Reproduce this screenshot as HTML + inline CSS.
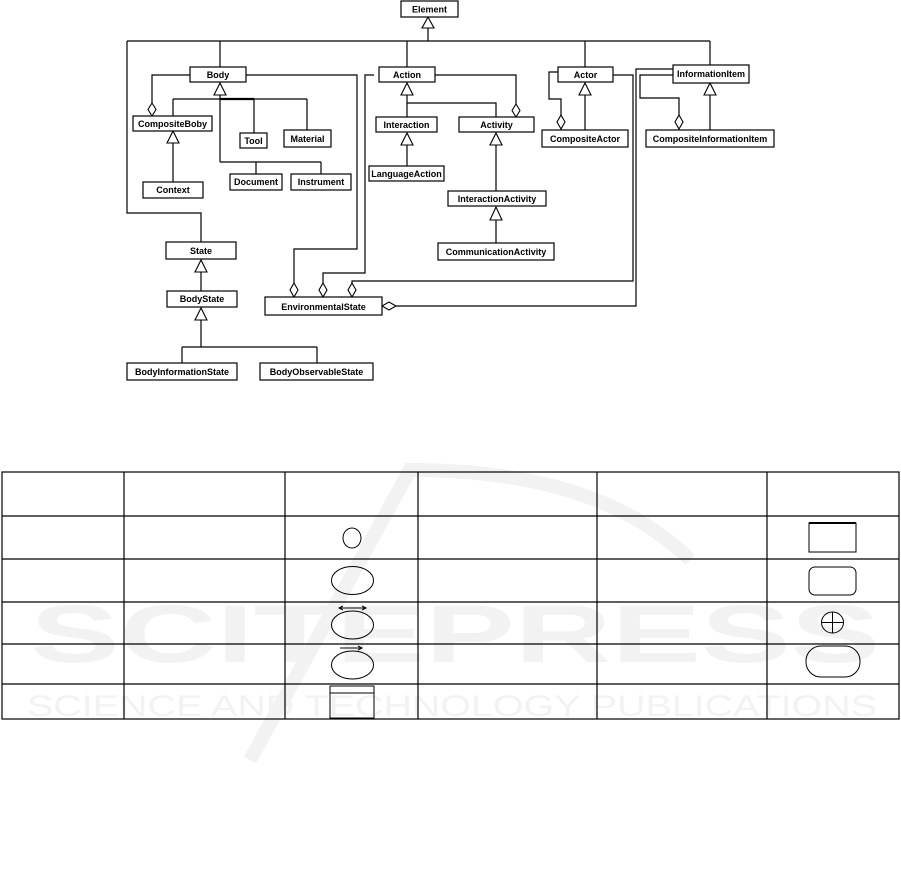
<!DOCTYPE html>
<html><head><meta charset="utf-8"><style>
html,body{margin:0;padding:0;background:#fff;}
svg{display:block;}
text{font-family:"Liberation Sans",sans-serif;font-weight:bold;font-size:9px;text-anchor:middle;}
</style></head><body>
<svg width="901" height="885" viewBox="0 0 901 885" xmlns="http://www.w3.org/2000/svg">
<!-- watermark -->
<g>
<text x="455" y="662" style="font-size:82px;font-weight:bold;text-anchor:middle;fill:#f2f2f2" textLength="850" lengthAdjust="spacingAndGlyphs">SCITEPRESS</text>
<text x="452" y="716" style="font-size:30px;font-weight:normal;text-anchor:middle;fill:#f2f2f2" textLength="850" lengthAdjust="spacingAndGlyphs">SCIENCE AND TECHNOLOGY PUBLICATIONS</text>
<path d="M250,760 L410,470 Q600,470 690,560" fill="none" stroke="#f2f2f2" stroke-width="14"/>
</g>
<g fill="none" stroke="#000" stroke-width="1.2">
<polyline points="428,28 428,41"/>
<polyline points="127,41 710,41"/>
<polyline points="127,41 127,213 201,213 201,242"/>
<polyline points="220,41 220,67"/>
<polyline points="407,41 407,67"/>
<polyline points="585,41 585,67"/>
<polyline points="710,41 710,66"/>
<polyline points="246,75 357,75 357,249 294,249 294,283"/>
<polyline points="190,75 152,75 152,103"/>
<polyline points="220,95 220,162"/>
<polyline points="173,99 307,99"/>
<polyline points="220,99 254,99" stroke-width="2.2"/>
<polyline points="173,99 173,116"/>
<polyline points="254,99 254,133"/>
<polyline points="307,99 307,130"/>
<polyline points="220,162 321,162"/>
<polyline points="256,162 256,174"/>
<polyline points="321,162 321,174"/>
<polyline points="173,143 173,182"/>
<polyline points="374,75 365,75 365,273 323,273 323,283"/>
<polyline points="435,75 516,75 516,104"/>
<polyline points="407,95 407,117"/>
<polyline points="407,103 496,103 496,117"/>
<polyline points="407,145 407,166"/>
<polyline points="496,145 496,191"/>
<polyline points="496,220 496,243"/>
<polyline points="558,72 549,72 549,99 561,99 561,115"/>
<polyline points="585,95 585,130"/>
<polyline points="613,75 633,75 633,281 352,281 352,283"/>
<polyline points="673,69 636,69 636,306 396,306"/>
<polyline points="673,75 640,75 640,98 679,98 679,115"/>
<polyline points="710,95 710,130"/>
<polyline points="201,272 201,291"/>
<polyline points="201,320 201,347"/>
<polyline points="182,347 317,347"/>
<polyline points="182,347 182,363"/>
<polyline points="317,347 317,363"/>
</g>
<g fill="#fff" stroke="#000" stroke-width="1.1">
<polygon points="428,17 422,28 434,28"/>
<polygon points="220,83 214,95 226,95"/>
<polygon points="173,131 167,143 179,143"/>
<polygon points="407,83 401,95 413,95"/>
<polygon points="407,133 401,145 413,145"/>
<polygon points="496,133 490,145 502,145"/>
<polygon points="496,207 490,220 502,220"/>
<polygon points="585,83 579,95 591,95"/>
<polygon points="710,83 704,95 716,95"/>
<polygon points="201,260 195,272 207,272"/>
<polygon points="201,308 195,320 207,320"/>
<polygon points="152,103 156,109.5 152,116 148,109.5"/>
<polygon points="516,104 520,110.5 516,117 512,110.5"/>
<polygon points="561,115 565,122 561,129 557,122"/>
<polygon points="679,115 683,122 679,129 675,122"/>
<polygon points="294,283 298,290 294,297 290,290"/>
<polygon points="323,283 327,290 323,297 319,290"/>
<polygon points="352,283 356,290 352,297 348,290"/>
<polygon points="382,306 389,302 396,306 389,310"/>
</g>
<g fill="#fff" stroke="#000" stroke-width="1.2">
<rect x="401" y="1" width="57" height="16"/>
<rect x="190" y="67" width="56" height="15"/>
<rect x="133" y="116" width="79" height="15"/>
<rect x="240" y="133" width="27" height="15"/>
<rect x="284" y="130" width="47" height="17"/>
<rect x="230" y="174" width="52" height="16"/>
<rect x="291" y="174" width="60" height="16"/>
<rect x="143" y="182" width="60" height="16"/>
<rect x="379" y="67" width="56" height="15"/>
<rect x="376" y="117" width="61" height="15"/>
<rect x="459" y="117" width="75" height="15"/>
<rect x="369" y="166" width="75" height="15"/>
<rect x="448" y="191" width="98" height="15"/>
<rect x="438" y="243" width="116" height="17"/>
<rect x="558" y="67" width="55" height="15"/>
<rect x="542" y="130" width="86" height="17"/>
<rect x="673" y="65" width="76" height="18"/>
<rect x="646" y="130" width="128" height="17"/>
<rect x="166" y="242" width="70" height="17"/>
<rect x="167" y="291" width="70" height="16"/>
<rect x="265" y="297" width="117" height="18"/>
<rect x="127" y="363" width="110" height="17"/>
<rect x="260" y="363" width="113" height="17"/>
</g>
<g fill="#000">
<text x="429.5" y="12.5">Element</text>
<text x="218" y="78">Body</text>
<text x="172.5" y="127">CompositeBoby</text>
<text x="253.5" y="144">Tool</text>
<text x="307.5" y="142">Material</text>
<text x="256" y="185">Document</text>
<text x="321" y="185">Instrument</text>
<text x="173" y="193">Context</text>
<text x="407" y="78">Action</text>
<text x="406.5" y="128">Interaction</text>
<text x="496.5" y="128">Activity</text>
<text x="406.5" y="177">LanguageAction</text>
<text x="497" y="202">InteractionActivity</text>
<text x="496" y="255">CommunicationActivity</text>
<text x="585.5" y="78">Actor</text>
<text x="585" y="142">CompositeActor</text>
<text x="711" y="77">InformationItem</text>
<text x="710" y="142">CompositeInformationItem</text>
<text x="201" y="254">State</text>
<text x="202" y="302">BodyState</text>
<text x="323.5" y="310">EnvironmentalState</text>
<text x="182" y="375">BodyInformationState</text>
<text x="316.5" y="375">BodyObservableState</text>
</g>
<g fill="none" stroke="#000" stroke-width="1.2">
<rect x="2" y="472" width="897" height="247"/>
<line x1="2" y1="516" x2="899" y2="516"/>
<line x1="2" y1="559" x2="899" y2="559"/>
<line x1="2" y1="602" x2="899" y2="602"/>
<line x1="2" y1="644" x2="899" y2="644"/>
<line x1="2" y1="684" x2="899" y2="684"/>
<line x1="124" y1="472" x2="124" y2="719"/>
<line x1="285" y1="472" x2="285" y2="719"/>
<line x1="418" y1="472" x2="418" y2="719"/>
<line x1="597" y1="472" x2="597" y2="719"/>
<line x1="767" y1="472" x2="767" y2="719"/>
</g>
<g fill="none" stroke="#000" stroke-width="1">
<ellipse cx="352" cy="538" rx="9" ry="10"/>
<ellipse cx="352.5" cy="580.5" rx="21" ry="14"/>
<ellipse cx="352.5" cy="625" rx="21" ry="14"/>
<line x1="340" y1="608" x2="366" y2="608"/>
<polyline points="343,606 339,608 343,610"/>
<polyline points="362,606 366,608 362,610"/>
<ellipse cx="352.5" cy="665" rx="21" ry="14"/>
<line x1="340" y1="648" x2="362" y2="648"/>
<polyline points="358,646 362,648 358,650"/>
<rect x="330" y="686" width="44" height="32"/>
<line x1="330" y1="693" x2="374" y2="693"/>
<rect x="809" y="523" width="47" height="29"/>
<line x1="809" y1="523" x2="856" y2="523" stroke-width="2"/>
<rect x="809" y="567" width="47" height="28" rx="6"/>
<ellipse cx="832.5" cy="622.5" rx="11" ry="10.5"/>
<line x1="821.5" y1="622.5" x2="843.5" y2="622.5"/>
<line x1="832.5" y1="612" x2="832.5" y2="633"/>
<rect x="806" y="646" width="54" height="31" rx="15"/>
</g>
</svg>
</body></html>
